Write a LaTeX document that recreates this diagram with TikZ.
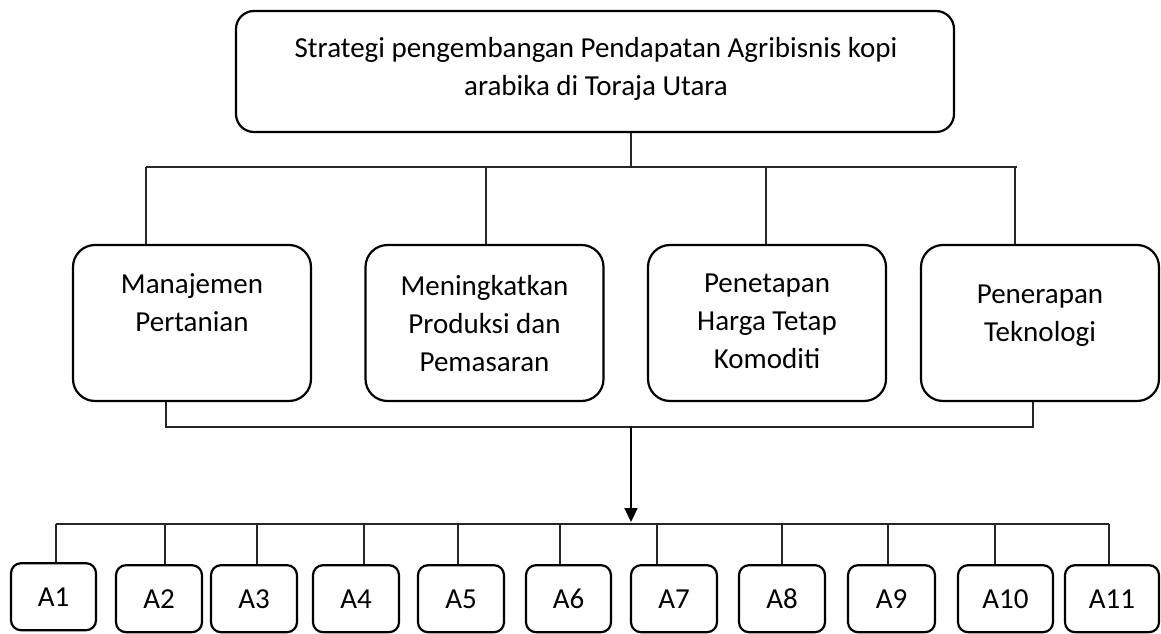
\documentclass[tikz,border=0pt]{standalone}
\usepackage{fontspec}
\setmainfont{Carlito}
\usetikzlibrary{arrows.meta}
\begin{document}
\begin{tikzpicture}[x=1pt,y=-1pt,
  box/.style={draw=black,line width=2.2pt,rectangle,inner sep=0pt},
  topbox/.style={box,rounded corners=18pt,minimum width=718pt,minimum height=121pt},
  midbox/.style={box,rounded corners=22pt,minimum width=238pt,minimum height=156pt},
  smallbox/.style={box,rounded corners=10pt,minimum height=67pt,text height=19pt,text depth=0pt,font=\fontsize{29}{38}\selectfont},
  txt/.style={align=center,inner sep=0pt,font=\fontsize{29}{38}\selectfont},
  conn/.style={draw=black!85,line width=1.2pt},
  arr/.style={draw=black,line width=2.2pt,-{Triangle[length=14pt,width=13pt]}}]
\useasboundingbox (0,0) rectangle (1161,634);
% top
\node[topbox] (top) at (595,71.5) {};
\node[txt] (toptxt) at (596,68.5) {Strategi pengembangan Pendapatan Agribisnis kopi\\arabika di Toraja Utara};
% middle boxes
\node[midbox] (m1) at (192,323) {};
\node[midbox] (m2) at (484.5,323) {};
\node[midbox] (m3) at (767,323) {};
\node[midbox] (m4) at (1040,323) {};
\node[txt] (t1) at (192,302.5) {Manajemen\\Pertanian};
\node[txt] (t2) at (484.5,324) {Meningkatkan\\Produksi dan\\Pemasaran};
\node[txt] (t3) at (767,321.5) {Penetapan\\Harga Tetap\\Komoditi};
\node[txt] (t4) at (1040,316) {Penerapan\\Teknologi};
% top bus
\coordinate (j0) at (631,167);
\coordinate (d1) at (146,167);
\coordinate (d2) at (486,167);
\coordinate (d3) at (766,167);
\coordinate (d4) at (1015,167);
\coordinate (dR) at (1017,167);
\draw[conn] (j0 |- top.south) -- (j0);
\draw[conn] (d1) -- (dR);
\draw[conn] (d1) -- (d1 |- m1.north);
\draw[conn] (d2) -- (d2 |- m2.north);
\draw[conn] (d3) -- (d3 |- m3.north);
\draw[conn] (d4) -- (d4 |- m4.north);
% bottom collector
\coordinate (b1) at (166,427);
\coordinate (b4) at (1033,427);
\coordinate (bm) at (631,427);
\coordinate (tip) at (631,522);
\draw[conn] (b1 |- m1.south) -- (b1) -- (b4) -- (b4 |- m4.south);
\draw[arr] (bm) -- (tip);
% small boxes
\node[smallbox,minimum width=85pt] (a1) at (53.5,596.7) {A1};
\node[smallbox,minimum width=86pt] (a2) at (159,598.7) {A2};
\node[smallbox,minimum width=86pt] (a3) at (254,598.7) {A3};
\node[smallbox,minimum width=86pt] (a4) at (356,598.7) {A4};
\node[smallbox,minimum width=86pt] (a5) at (461,598.7) {A5};
\node[smallbox,minimum width=85pt] (a6) at (568.5,598.7) {A6};
\node[smallbox,minimum width=86pt] (a7) at (674,598.7) {A7};
\node[smallbox,minimum width=86pt] (a8) at (782,598.7) {A8};
\node[smallbox,minimum width=87pt] (a9) at (891.5,598.7) {A9};
\node[smallbox,minimum width=95pt] (a10) at (1005.5,598.7) {A10};
\node[smallbox,minimum width=94pt] (a11) at (1112,598.7) {A11};
% bottom bus
\coordinate (eL) at (56,524);
\coordinate (eR) at (1109,524);
\draw[conn] (eL) -- (eR);
\foreach \n/\x in {a1/56,a2/165,a3/257,a4/364,a5/458,a6/560,a7/657,a8/782,a9/888,a10/995,a11/1109}{
  \coordinate (c\n) at (\x,524);
  \draw[conn] (c\n) -- (c\n |- \n.north);
}
\end{tikzpicture}
\end{document}
